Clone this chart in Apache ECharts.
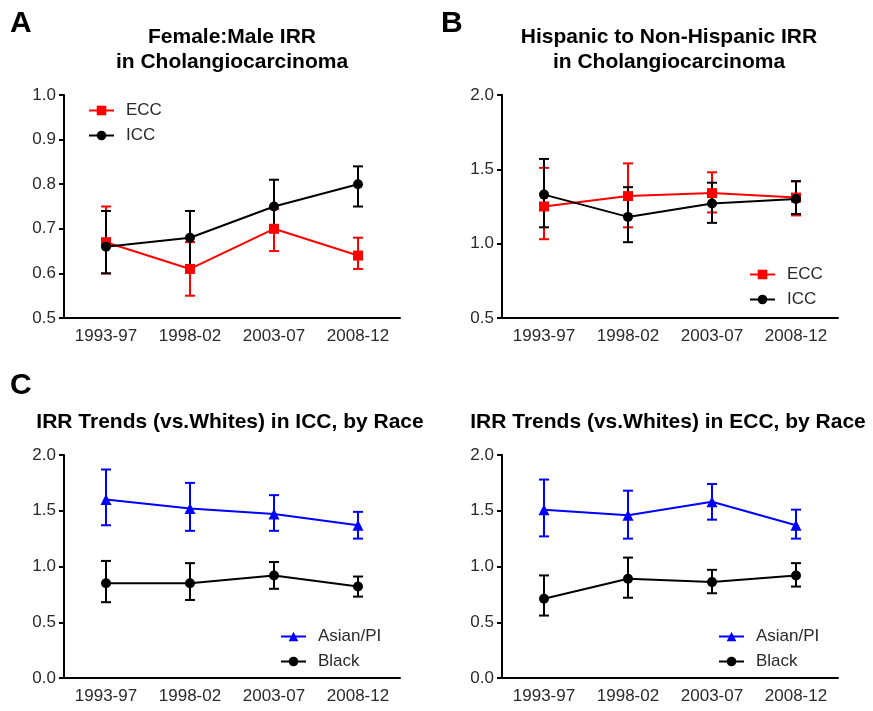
<!DOCTYPE html>
<html>
<head>
<meta charset="utf-8">
<script src="https://cdn.jsdelivr.net/npm/echarts@6/dist/echarts.min.js"></script>
<style>
html,body{margin:0;padding:0;background:#fff;}
#chart{width:873px;height:711px;}
</style>
</head>
<body>
<div id="chart"></div>
<script>
const categories = ['1993-97', '1998-02', '2003-07', '2008-12'];

// Panel A: Female:Male IRR
const A_ECC = [0.67, 0.61, 0.70, 0.64];
const A_ECC_low = [0.60, 0.55, 0.65, 0.61];
const A_ECC_high = [0.75, 0.67, 0.745, 0.68];
const A_ICC = [0.66, 0.68, 0.75, 0.80];
const A_ICC_low = [0.60, 0.61, 0.70, 0.75];
const A_ICC_high = [0.74, 0.74, 0.81, 0.84];

// Panel B: Hispanic to Non-Hispanic IRR
const B_ECC = [1.25, 1.32, 1.34, 1.31];
const B_ECC_low = [1.03, 1.11, 1.21, 1.19];
const B_ECC_high = [1.51, 1.54, 1.48, 1.42];
const B_ICC = [1.33, 1.18, 1.27, 1.30];
const B_ICC_low = [1.11, 1.01, 1.14, 1.20];
const B_ICC_high = [1.57, 1.38, 1.41, 1.42];

// Panel C left: ICC by race
const C1_Asian = [1.60, 1.52, 1.47, 1.37];
const C1_Asian_low = [1.37, 1.32, 1.32, 1.25];
const C1_Asian_high = [1.87, 1.75, 1.64, 1.49];
const C1_Black = [0.85, 0.85, 0.92, 0.82];
const C1_Black_low = [0.68, 0.70, 0.80, 0.73];
const C1_Black_high = [1.05, 1.03, 1.04, 0.91];

// Panel C right: ECC by race
const C2_Asian = [1.51, 1.46, 1.58, 1.37];
const C2_Asian_low = [1.27, 1.25, 1.42, 1.25];
const C2_Asian_high = [1.78, 1.68, 1.74, 1.51];
const C2_Black = [0.71, 0.89, 0.86, 0.92];
const C2_Black_low = [0.56, 0.72, 0.76, 0.82];
const C2_Black_high = [0.92, 1.08, 0.97, 1.03];

const yTicksA = {min: 0.5, max: 1.0, interval: 0.1};
const yTicksB = {min: 0.5, max: 2.0, interval: 0.5};
const yTicksC = {min: 0.0, max: 2.0, interval: 0.5};

const RED = '#ff0000', BLACK = '#000000', BLUE = '#0000ff';
const FONT = 'Liberation Sans, Arial, sans-serif';
const LABEL_COLOR = '#2a2a2a';

const chart = echarts.init(document.getElementById('chart'), null, {renderer: 'canvas'});

function errData(low, high) {
  return categories.map((c, i) => [i, low[i], high[i]]);
}
function errSeries(idx, low, high, color) {
  return {
    type: 'custom',
    xAxisIndex: idx, yAxisIndex: idx,
    data: errData(low, high),
    encode: {x: 0, y: [1, 2]},
    silent: true,
    clip: false,
    z: 2,
    renderItem: function (params, api) {
      const x = api.value(0);
      const lo = api.coord([x, api.value(1)]);
      const hi = api.coord([x, api.value(2)]);
      const w = 5;
      const style = {stroke: color, lineWidth: 2};
      return {
        type: 'group',
        children: [
          {type: 'line', shape: {x1: lo[0], y1: lo[1], x2: hi[0], y2: hi[1]}, style: style},
          {type: 'line', shape: {x1: lo[0] - w, y1: lo[1], x2: lo[0] + w, y2: lo[1]}, style: style},
          {type: 'line', shape: {x1: hi[0] - w, y1: hi[1], x2: hi[0] + w, y2: hi[1]}, style: style}
        ]
      };
    }
  };
}
function lineSeries(idx, name, data, color, symbol, size) {
  return {
    type: 'line', name: name,
    xAxisIndex: idx, yAxisIndex: idx,
    data: data,
    symbol: symbol, symbolSize: size,
    showAllSymbol: true,
    z: 3,
    lineStyle: {color: color, width: 2},
    itemStyle: {color: color},
    emphasis: {disabled: true},
    animation: false
  };
}

const grids = [
  {left: 64, top: 95, width: 336, height: 223},
  {left: 502, top: 95, width: 336, height: 223},
  {left: 64, top: 455, width: 336, height: 223},
  {left: 502, top: 455, width: 336, height: 223}
];

function xAxis(idx) {
  return {
    type: 'category', gridIndex: idx, data: categories, boundaryGap: true,
    axisLine: {lineStyle: {color: '#000', width: 2}},
    axisTick: {alignWithLabel: true, length: 6, lineStyle: {color: '#000', width: 2}},
    axisLabel: {color: LABEL_COLOR, fontSize: 17, fontFamily: FONT, margin: 10, interval: 0},
    splitLine: {show: false}
  };
}
function yAxis(idx, t) {
  return {
    type: 'value', gridIndex: idx, min: t.min, max: t.max, interval: t.interval,
    axisLine: {show: true, lineStyle: {color: '#000', width: 2}},
    axisTick: {show: true, length: 5, lineStyle: {color: '#000', width: 2}},
    axisLabel: {color: LABEL_COLOR, fontSize: 17, fontFamily: FONT, margin: 8,
      formatter: v => v.toFixed(1)},
    splitLine: {show: false}
  };
}

function legend(left, top, names) {
  return {
    left: left, top: top, orient: 'vertical', padding: 0,
    itemWidth: 25, itemHeight: 12, itemGap: 8,
    data: names,
    selectedMode: false,
    textStyle: {color: LABEL_COLOR, fontSize: 17, fontFamily: FONT, padding: [0, 0, 0, 7]}
  };
}

const titleStyle = {color: '#000', fontSize: 21, fontWeight: 'bold', fontFamily: FONT, lineHeight: 25};
const letterStyle = {color: '#000', fontSize: 30, fontWeight: 'bold', fontFamily: FONT};

const option = {
  backgroundColor: '#fff',
  animation: false,
  title: [
    {text: 'A', left: 10, top: 9, padding: 0, textStyle: letterStyle},
    {text: 'B', left: 441, top: 9, padding: 0, textStyle: letterStyle},
    {text: 'C', left: 10, top: 371, padding: 0, textStyle: letterStyle},
    {text: 'Female:Male IRR\nin Cholangiocarcinoma', left: 232, top: 25, padding: 0, textAlign: 'center', textStyle: titleStyle},
    {text: 'Hispanic to Non-Hispanic IRR\nin Cholangiocarcinoma', left: 669, top: 25, padding: 0, textAlign: 'center', textStyle: titleStyle},
    {text: 'IRR Trends (vs.Whites) in ICC, by Race', left: 230, top: 410, padding: 0, textAlign: 'center', textStyle: titleStyle},
    {text: 'IRR Trends (vs.Whites) in ECC, by Race', left: 668, top: 410, padding: 0, textAlign: 'center', textStyle: titleStyle}
  ],
  legend: [
    legend(88, 102, ['ECC', 'ICC']),
    legend(749, 266, ['ECC', 'ICC']),
    legend(280, 628, ['Asian/PI', 'Black']),
    legend(718, 628, ['Asian/PI', 'Black'])
  ],
  grid: grids,
  xAxis: [xAxis(0), xAxis(1), xAxis(2), xAxis(3)],
  yAxis: [yAxis(0, yTicksA), yAxis(1, yTicksB), yAxis(2, yTicksC), yAxis(3, yTicksC)],
  series: [
    errSeries(0, A_ECC_low, A_ECC_high, RED),
    lineSeries(0, 'ECC', A_ECC, RED, 'rect', 10),
    errSeries(0, A_ICC_low, A_ICC_high, BLACK),
    lineSeries(0, 'ICC', A_ICC, BLACK, 'circle', 10),

    errSeries(1, B_ECC_low, B_ECC_high, RED),
    lineSeries(1, 'ECC', B_ECC, RED, 'rect', 10),
    errSeries(1, B_ICC_low, B_ICC_high, BLACK),
    lineSeries(1, 'ICC', B_ICC, BLACK, 'circle', 10),

    errSeries(2, C1_Asian_low, C1_Asian_high, BLUE),
    lineSeries(2, 'Asian/PI', C1_Asian, BLUE, 'triangle', 11),
    errSeries(2, C1_Black_low, C1_Black_high, BLACK),
    lineSeries(2, 'Black', C1_Black, BLACK, 'circle', 10),

    errSeries(3, C2_Asian_low, C2_Asian_high, BLUE),
    lineSeries(3, 'Asian/PI', C2_Asian, BLUE, 'triangle', 11),
    errSeries(3, C2_Black_low, C2_Black_high, BLACK),
    lineSeries(3, 'Black', C2_Black, BLACK, 'circle', 10)
  ]
};
chart.setOption(option);
</script>
</body>
</html>
